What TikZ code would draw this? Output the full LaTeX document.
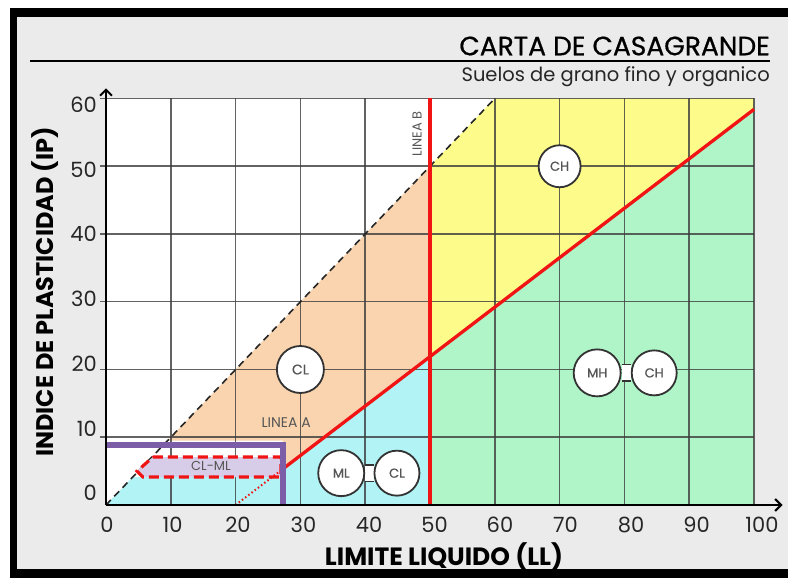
\documentclass[tikz,border=0pt]{standalone}
\usepackage{fontspec}
\setmainfont{Poppins}
\newfontfamily\titlefont[FakeBold=0.7]{Poppins}
\usetikzlibrary{arrows.meta}
\definecolor{bgGrey}{HTML}{EBEBEB}
\definecolor{peach}{HTML}{F9D4AE}
\definecolor{lemon}{HTML}{FDFB8A}
\definecolor{mint}{HTML}{AFF5C8}
\definecolor{aqua}{HTML}{B2F3F5}
\definecolor{lilac}{HTML}{D8CDE8}
\definecolor{plum}{HTML}{7B5EA7}
\definecolor{redline}{HTML}{F01414}
\definecolor{gridc}{HTML}{3C3C3C}
\definecolor{txtgrey}{HTML}{555555}
\pgfdeclarelayer{fg}
\pgfsetlayers{main,fg}
\begin{document}
\begin{tikzpicture}[x=1pt,y=1pt,
  soil/.style={circle, draw=black!80, line width=1.8pt, fill=white, inner sep=0pt,
    text=txtgrey, font=\titlefont\fontsize{13}{13}\selectfont},
  pairlink/.style={draw=black!80, line width=1.6pt, double=white, double distance=15pt},
  gridline/.style={gridc, line width=1.5pt, opacity=0.8},
  ticklab/.style={font=\fontsize{21}{21}\selectfont, text=black!85, inner sep=0pt},
  axistitle/.style={font=\bfseries\fontsize{24}{24}\selectfont, inner sep=0pt},
  zonelab/.style={text=txtgrey, font=\fontsize{12}{12}\selectfont, inner sep=0pt},
  axisline/.style={line width=2.4pt, -{Straight Barb[length=6pt,width=12pt,line width=2pt]}}]
\useasboundingbox (0,0) rectangle (788,578);
\fill[white] (0,0) rectangle (788,578);
\fill[black] (10,0) rectangle (788,570);
\fill[bgGrey] (17,9) rectangle (788,561);

% title block
\node[anchor=east, font=\titlefont\fontsize{26.5}{26.5}\selectfont, inner sep=0pt] (title) at (770,532) {CARTA DE CASAGRANDE};
\coordinate (ruleL) at (30,517);
\coordinate (ruleR) at (770,517);
\draw[line width=2.5pt] (ruleL) -- (ruleR);
\node[anchor=east, font=\fontsize{19.5}{19.5}\selectfont, text=black!85, inner sep=0pt] (subtitle) at (770,501) {Suelos de grano fino y organico};

\begin{scope}[shift={(106,73)}, x=6.48pt, y=6.775pt]
  % zones
  \fill[white] (0,0) rectangle (100,60);
  \fill[lemon] (50,21.9) -- (50,50) -- (60,60) -- (100,60) -- (100,58.4) -- cycle;
  \fill[mint] (50,0) -- (50,21.9) -- (100,58.4) -- (100,0) -- cycle;
  \fill[peach] (9.5,9.5) -- (50,50) -- (50,21.9) -- (27.3,5.33) -- (27.3,9.5) -- cycle;
  \fill[aqua] (0,0) -- (4.13,4.13) -- (27.3,4.13) -- (27.3,5.33) -- (50,21.9) -- (50,0) -- cycle;
  % grid
  \foreach \v in {10,20,...,100} \draw[gridline] (\v,0) -- (\v,60);
  \foreach \h in {10,20,...,60} \draw[gridline] (-0.9,\h) -- (100,\h);
  % U-like dashed line
  \coordinate (d0) at (0,0);
  \coordinate (d1) at (60,60);
  \draw[black!85, line width=1.6pt, dash pattern=on 7pt off 5pt] (d0) -- (d1);
  % CL-ML zone
  \draw[redline, line width=3.2pt, dash pattern=on 10pt off 5pt, fill=lilac]
    (7.25,7.08) -- (27,7.08) -- (27,4.13) -- (5.7,4.13) -- (4.8,5.0) -- cycle;
  \node[zonelab, font=\fontsize{13}{13}\selectfont] (clml) at (16.2,5.7) {CL-ML};
  % line A
  \coordinate (a0) at (20,0);
  \coordinate (a1) at (27.3,5.33);
  \coordinate (a2) at (100,58.4);
  \draw[redline, line width=2pt, dash pattern=on 1.5pt off 2.5pt] (a0) -- (a1);
  \draw[redline, line width=3.3pt] (a1) -- (a2);
  % line B
  \coordinate (b0) at (50,0);
  \coordinate (b1) at (50,60);
  \draw[redline, line width=3.3pt] (b0) -- (b1);
  % purple limit
  \coordinate (p0) at (0,8.9);
  \coordinate (p1) at (27.3,8.9);
  \coordinate (p2) at (27.3,0);
  \draw[plum, line width=6pt] (p0) -- (p1) -- (p2);
  % line labels
  \node[zonelab, font=\fontsize{14}{14}\selectfont] (linA) at (27.8,12.1) {LINEA A};
  \node[zonelab, font=\fontsize{13}{13}\selectfont, rotate=90] (linB) at (48.0,54.8) {LINEA B};
  % soil circles
  \begin{pgfonlayer}{fg}
    \node[soil, minimum size=42pt] (ch) at (70,50) {CH};
    \node[soil, minimum size=47pt, font=\titlefont\fontsize{14}{14}\selectfont] (cl) at (30,20) {CL};
    \node[soil, minimum size=46pt] (ml) at (36.3,4.7) {ML};
    \node[soil, minimum size=45pt] (cl2) at (44.9,4.7) {CL};
    \node[soil, minimum size=47pt] (mh) at (75.8,19.5) {MH};
    \node[soil, minimum size=45pt] (ch2) at (84.6,19.5) {CH};
  \end{pgfonlayer}
  \draw[pairlink] (ml) -- (cl2);
  \draw[pairlink] (mh) -- (ch2);
  % axes
  \coordinate (o) at (0,0);
  \coordinate (xend) at (104.4,0);
  \coordinate (yend) at (0,61.5);
  \draw[axisline] (o) -- (xend);
  \draw[axisline] (o) -- (yend);
\end{scope}

% tick labels
\foreach \v in {0,10,...,100} \node[ticklab] (xl\v) at ({107+6.55*\v},53) {\v};
\foreach \v in {0,10,...,60} \node[ticklab, anchor=east] (yl\v) at (97,{85+6.47*\v}) {\v};

% axis titles
\node[axistitle, font=\bfseries\fontsize{25}{25}\selectfont] (xtitle) at (444,21) {LIMITE LIQUIDO (LL)};
\node[axistitle, rotate=90] (ytitle) at (45,286) {INDICE DE PLASTICIDAD (IP)};
\end{tikzpicture}
\end{document}
